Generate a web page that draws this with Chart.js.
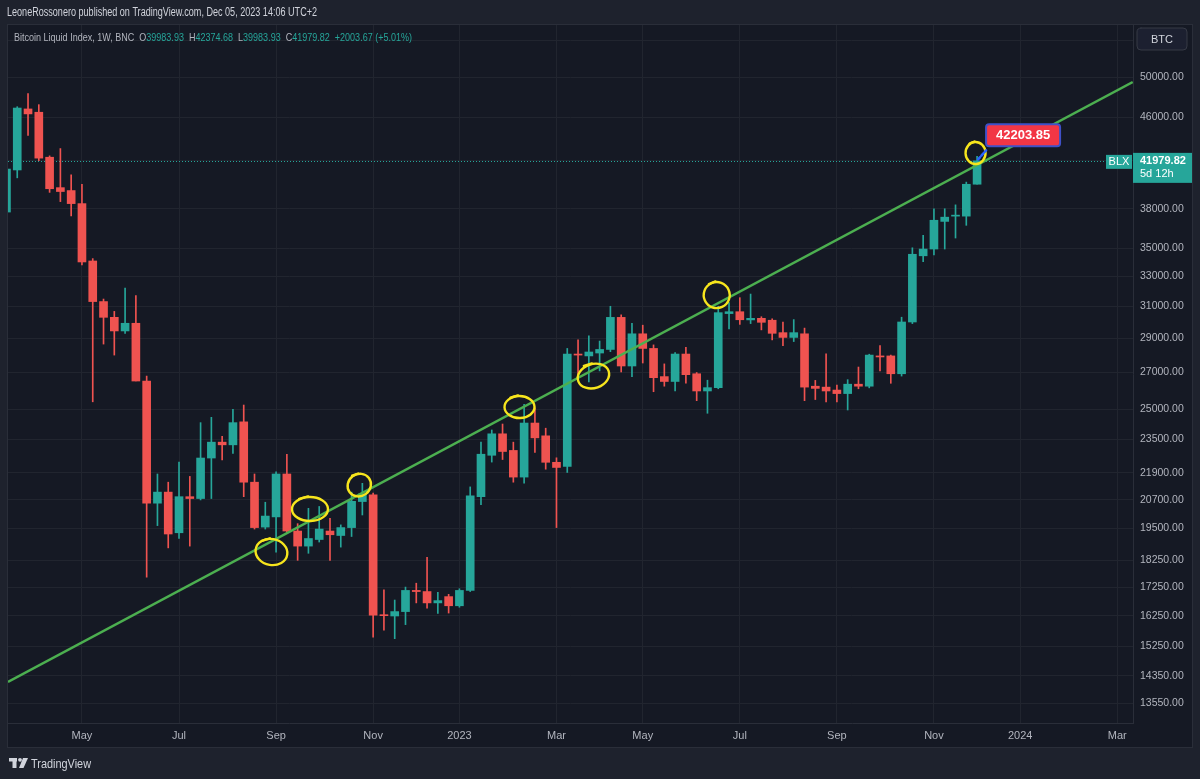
<!DOCTYPE html>
<html><head><meta charset="utf-8">
<script src="https://cdn.jsdelivr.net/npm/chart.js@4.4.1/dist/chart.umd.min.js"></script>
<style>html,body{margin:0;padding:0;background:#1e222d;overflow:hidden}#wrap{width:1200px;height:779px}canvas{display:block}</style>
</head><body><div id="wrap"><canvas id="c" width="1200" height="779"></canvas></div>
<script>
// ---------- DATA ----------
const dates = ['2022-03-14','2022-03-21','2022-03-28','2022-04-04','2022-04-11','2022-04-18','2022-04-25','2022-05-02','2022-05-09','2022-05-16','2022-05-23','2022-05-30','2022-06-06','2022-06-13','2022-06-20','2022-06-27','2022-07-04','2022-07-11','2022-07-18','2022-07-25','2022-08-01','2022-08-08','2022-08-15','2022-08-22','2022-08-29','2022-09-05','2022-09-12','2022-09-19','2022-09-26','2022-10-03','2022-10-10','2022-10-17','2022-10-24','2022-10-31','2022-11-07','2022-11-14','2022-11-21','2022-11-28','2022-12-05','2022-12-12','2022-12-19','2022-12-26','2023-01-02','2023-01-09','2023-01-16','2023-01-23','2023-01-30','2023-02-06','2023-02-13','2023-02-20','2023-02-27','2023-03-06','2023-03-13','2023-03-20','2023-03-27','2023-04-03','2023-04-10','2023-04-17','2023-04-24','2023-05-01','2023-05-08','2023-05-15','2023-05-22','2023-05-29','2023-06-05','2023-06-12','2023-06-19','2023-06-26','2023-07-03','2023-07-10','2023-07-17','2023-07-24','2023-07-31','2023-08-07','2023-08-14','2023-08-21','2023-08-28','2023-09-04','2023-09-11','2023-09-18','2023-09-25','2023-10-02','2023-10-09','2023-10-16','2023-10-23','2023-10-30','2023-11-06','2023-11-13','2023-11-20','2023-11-27','2023-12-04'];
const opens  = [37730,41190,46780,46460,42300,39700,39460,38400,34070,31305,30293,29445,29920,26525,20560,21040,19330,20840,20760,22590,23350,23220,24360,21480,19560,19980,21850,19400,18800,19060,19400,19220,19540,20630,20920,16280,16250,16400,17140,17100,16700,16920,16600,17140,20840,22720,23760,22950,21710,24300,23660,22390,22200,28060,27950,28120,28330,30290,27370,29270,28390,26770,26500,28060,26930,25980,26160,30530,30650,30130,30230,30110,29340,29050,29270,26240,26190,26030,25840,26350,26240,27950,27950,26930,30000,34440,34930,37000,37410,37410,39983.93];
const highs  = [42300,47000,48300,47200,42420,43070,40780,39970,34240,31470,30670,32200,31700,26800,21850,21480,22400,21740,24320,24590,23640,25000,25230,21850,20600,21950,22770,19700,20340,20420,19920,19650,21040,21430,21000,17160,16800,17260,17400,18360,17070,17000,17200,21270,23350,23950,24250,23350,25270,25080,24040,22600,28390,28900,29150,28830,31000,30450,29920,29800,28600,27490,28150,28450,27000,26570,31000,31240,31560,31800,30330,30200,30000,30150,29620,26560,28070,26300,26600,27310,28050,28560,28000,30300,35020,35940,37990,37990,38300,40160,42374.68];
const lows   = [37600,40520,44260,42000,39310,38560,37420,33800,25400,28650,28000,29300,26530,17620,19620,18730,19100,18800,20700,20760,22500,22810,20840,19480,19480,18560,19300,18250,18520,18960,18250,18760,19180,20060,15550,15780,15500,15960,16700,16520,16340,16350,16550,17100,20500,22400,22520,21480,21440,22850,22070,19540,21920,26800,26480,27090,28200,27030,26770,27540,25940,26240,25980,26400,25460,24800,26100,29570,29850,29900,29510,28900,28550,28800,25460,25520,25400,25400,24970,26100,26150,27090,26400,26800,29900,34020,34500,34930,35740,36700,39983.93];
const closes = [41270,46870,46300,42220,39610,39380,38400,34000,31305,30293,29445,29920,26525,20560,21040,19280,20840,20760,22590,23350,23220,24320,21480,19540,20015,21850,19400,18800,19100,19480,19250,19540,20640,20960,16280,16260,16400,17140,17100,16700,16780,16600,17140,20880,22770,23760,22900,21710,24300,23560,22390,22150,28060,28000,28180,28330,30290,27370,29270,28390,26710,26500,28060,26880,25980,26160,30590,30650,30140,30230,29980,29300,29050,29340,26190,26120,25980,25840,26350,26240,28000,27890,26930,30000,34550,34930,37090,37330,37420,39980,41979.82];

const xTickDates  = ['2022-05-02','2022-07-04','2022-09-05','2022-11-07','2023-01-02','2023-03-06','2023-05-01','2023-07-03','2023-09-04','2023-11-06','2024-01-01','2024-03-04'];
const xTickLabels = ['May','Jul','Sep','Nov','2023','Mar','May','Jul','Sep','Nov','2024','Mar'];
const yTickValues = [54000,50000,46000,42000,38000,35000,33000,31000,29000,27000,25000,23500,21900,20700,19500,18250,17250,16250,15250,14350,13550];

const trendDates  = ['2022-03-15','2024-03-14'];
const trendPrices = [14160, 49480];

const lastPrice = 41979.82;
const noteDate = '2023-12-04';
const notePrice = 42203.85;

const circleDates  = ['2022-09-02','2022-09-27','2022-10-29','2023-02-10','2023-03-30','2023-06-18','2023-12-03'];
const circlePrices = [18570,20310,21350,25125,26800,31730,42670];

const viewStart = '2022-03-15', viewEnd = '2024-03-14';
const yMin = 13000, yMax = 55730;

// ---------- STYLE ----------
const TEAL = '#26a69a', RED = '#ef5350';
const PANE = '#151924', OUTER = '#1e222d', GRID = '#21252f', FRAME = '#2a2e39';
const TXT = '#b2b5be';
const FONT = "'Liberation Sans', Arial, sans-serif";
const circleStyle = [[16,13,0.2],[18,12,0],[12,11,-0.6],[15,11,0],[16,12,-0.3],[13,13,0.4],[10,11,0]];

const day = s => { const [y,m,d] = s.split('-').map(Number); return Date.UTC(y,m-1,d)/86400000; };
const isUp = i => closes[i] >= opens[i];
const colorFn = ctx => isUp(ctx.dataIndex) ? TEAL : RED;

function fitText(ctx, segs, x, y, w, font) {
  ctx.font = font;
  let total = 0; segs.forEach(s => total += ctx.measureText(s[0]).width);
  ctx.save(); ctx.translate(x, y); ctx.scale(w / total, 1);
  let cx = 0;
  segs.forEach(s => { ctx.fillStyle = s[1]; ctx.fillText(s[0], cx, 0); cx += ctx.measureText(s[0]).width; });
  ctx.restore();
}
function rrect(ctx, x, y, w, h, r) {
  ctx.beginPath(); ctx.moveTo(x+r,y); ctx.lineTo(x+w-r,y); ctx.quadraticCurveTo(x+w,y,x+w,y+r);
  ctx.lineTo(x+w,y+h-r); ctx.quadraticCurveTo(x+w,y+h,x+w-r,y+h); ctx.lineTo(x+r,y+h);
  ctx.quadraticCurveTo(x,y+h,x,y+h-r); ctx.lineTo(x,y+r); ctx.quadraticCurveTo(x,y,x+r,y); ctx.closePath();
}

const decor = {
  id: 'decor',
  beforeDraw(chart) {
    const c = chart.ctx;
    c.save();
    c.fillStyle = OUTER; c.fillRect(0,0,1200,779);
    const a = chart.chartArea, xs = chart.scales.x, ys = chart.scales.y;
    c.fillStyle = PANE; c.fillRect(a.left, a.top, ys.right - a.left, xs.bottom - a.top);
    c.restore();
  },
  beforeDatasetsDraw(chart) {
    const c = chart.ctx, a = chart.chartArea, ys = chart.scales.y;
    const py = Math.round(ys.getPixelForValue(lastPrice)) + 0.5;
    c.save(); c.strokeStyle = TEAL; c.lineWidth = 1; c.setLineDash([1,2]);
    c.beginPath(); c.moveTo(a.left, py); c.lineTo(a.right, py); c.stroke(); c.restore();
  },
  afterDraw(chart) {
    const c = chart.ctx, a = chart.chartArea, xs = chart.scales.x, ys = chart.scales.y;
    c.save();
    // yellow hand-drawn circles
    c.strokeStyle = '#f7e51d'; c.lineWidth = 2.4; c.lineCap = 'round';
    circleDates.forEach((d,i) => {
      const cx = xs.getPixelForValue(day(d)), cy = ys.getPixelForValue(circlePrices[i]);
      const [rx, ry, rot] = circleStyle[i];
      c.beginPath(); c.ellipse(cx, cy, rx, ry, rot, -2.4, -2.4 + Math.PI*2.08); c.stroke();
      c.beginPath(); c.moveTo(cx - rx*0.6, cy - ry*0.85); c.lineTo(cx - rx*0.1, cy - ry*1.05); c.stroke();
    });
    // price note
    const nx = xs.getPixelForValue(day(noteDate)), ny = ys.getPixelForValue(notePrice);
    c.strokeStyle = '#2962ff'; c.lineWidth = 2.5; c.setLineDash([3,2]);
    c.beginPath(); c.moveTo(nx + 1, ny + 1); c.lineTo(nx + 9, ny - 8); c.stroke(); c.setLineDash([]);
    rrect(c, nx + 9, ny - 34, 74, 22, 3);
    c.fillStyle = '#f23645'; c.fill(); c.strokeStyle = '#3f51c8'; c.lineWidth = 2; c.stroke();
    c.fillStyle = '#ffffff'; c.font = "bold 13px " + FONT; c.textAlign = 'center'; c.textBaseline = 'middle';
    c.fillText(notePrice.toFixed(2), nx + 46, ny - 22.5);
    // last price labels
    const py = ys.getPixelForValue(lastPrice);
    c.fillStyle = TEAL; c.fillRect(a.right - 27, py - 6, 26, 14);
    c.fillRect(a.right, py - 8, 59, 30);
    c.fillStyle = '#ffffff'; c.font = "11px " + FONT; c.textAlign = 'center';
    c.fillText('BLX', a.right - 14, py + 1);
    c.textAlign = 'left'; c.font = "bold 11px " + FONT; c.fillText(lastPrice.toFixed(2), a.right + 7, py);
    c.font = "11px " + FONT; c.fillText('5d 12h', a.right + 7, py + 13);
    // BTC button
    rrect(c, a.right + 4, a.top + 3, 50, 22, 4);
    c.fillStyle = '#1c2030'; c.fill(); c.strokeStyle = '#363a45'; c.lineWidth = 1; c.stroke();
    c.fillStyle = '#d1d4dc'; c.font = "11px " + FONT; c.textAlign = 'center'; c.fillText('BTC', a.right + 29, a.top + 14.5);
    // frame
    c.strokeStyle = FRAME; c.lineWidth = 1;
    c.strokeRect(a.left - 0.5, a.top - 0.5, ys.right - a.left + 1, xs.bottom - a.top + 1);
    // header
    c.textAlign = 'left'; c.textBaseline = 'alphabetic';
    fitText(c, [['LeoneRossonero published on TradingView.com, Dec 05, 2023 14:06 UTC+2', '#d1d4dc']], 7, 16, 310, "12px " + FONT);
    const L = opens.length - 1;
    fitText(c, [
      ['Bitcoin Liquid Index, 1W, BNC  ', TXT], ['O', TXT], [opens[L].toFixed(2), TEAL],
      ['  H', TXT], [highs[L].toFixed(2), TEAL], ['  L', TXT], [lows[L].toFixed(2), TEAL],
      ['  C', TXT], [closes[L].toFixed(2), TEAL], ['  +2003.67 (+5.01%)', TEAL]
    ], 14, 41, 398, "11px " + FONT);
    // footer logo + text
    c.fillStyle = '#d1d4dc';
    c.fillRect(9, 758, 8, 3.5); c.fillRect(12.5, 758, 4, 10);
    c.beginPath(); c.arc(20, 759.8, 1.9, 0, Math.PI*2); c.fill();
    c.beginPath(); c.moveTo(23, 758); c.lineTo(28, 758); c.lineTo(23.5, 768); c.lineTo(19, 768); c.closePath(); c.fill();
    fitText(c, [['TradingView', '#d1d4dc']], 31, 768, 60, "13px " + FONT);
    c.restore();
  }
};

const chart = new Chart(document.getElementById('c'), {
  type: 'bar',
  data: {
    datasets: [
      { type: 'line', data: trendDates.map((d,i) => ({x: day(d), y: trendPrices[i]})),
        borderColor: '#4caf50', borderWidth: 2.5, pointRadius: 0, order: 0 },
      { type: 'bar', data: dates.map((d,i) => ({x: day(d), y: [opens[i], closes[i]]})),
        backgroundColor: colorFn, barThickness: 8, minBarLength: 1, grouped: false, borderWidth: 0, order: 1 },
      { type: 'bar', data: dates.map((d,i) => ({x: day(d), y: [lows[i], highs[i]]})),
        backgroundColor: colorFn, barThickness: 1, grouped: false, borderWidth: 0, order: 2 }
    ]
  },
  options: {
    responsive: false, animation: false, devicePixelRatio: 1,
    layout: { padding: { left: 8, top: 25, right: 8, bottom: 32 } },
    plugins: { legend: { display: false }, tooltip: { enabled: false } },
    events: [],
    scales: {
      x: {
        type: 'linear', min: day(viewStart), max: day(viewEnd) + 0.2, offset: false,
        afterBuildTicks: s => { s.ticks = xTickDates.map(d => ({ value: day(d) })); },
        afterFit: s => { s.height = 24; },
        ticks: { autoSkip: false, maxRotation: 0, padding: 6, color: TXT, font: { size: 11, family: FONT },
          callback: v => xTickLabels[xTickDates.findIndex(d => day(d) === v)] },
        grid: { color: GRID, drawTicks: false, offset: false },
        border: { color: FRAME }
      },
      y: {
        type: 'logarithmic', position: 'right', min: yMin, max: yMax, bounds: 'data',
        afterBuildTicks: s => { s.ticks = yTickValues.map(v => ({ value: v })); },
        afterFit: s => { s.width = 59; },
        ticks: { autoSkip: false, padding: 7, color: TXT, font: { size: 10.5, family: FONT },
          callback: v => Number(v).toFixed(2) },
        grid: { color: GRID, drawTicks: false },
        border: { color: FRAME }
      }
    }
  },
  plugins: [decor]
});
</script></body></html>
